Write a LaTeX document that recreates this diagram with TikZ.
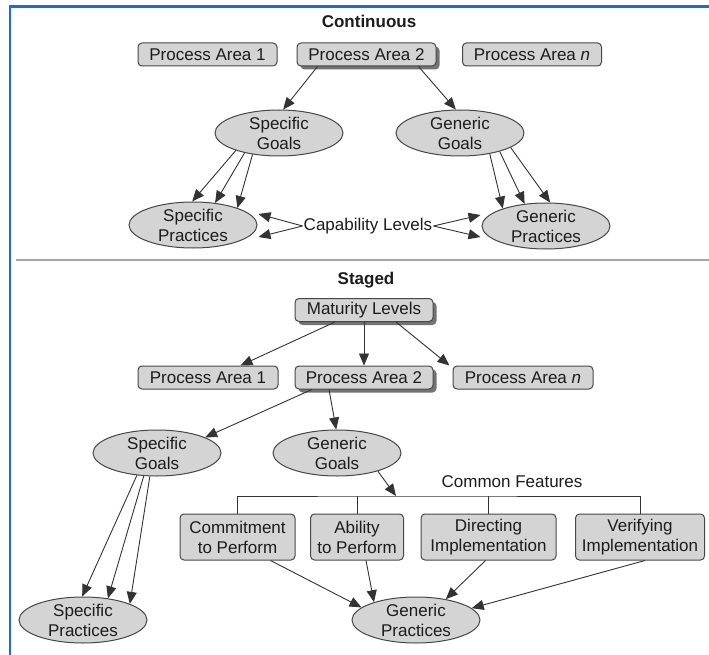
\documentclass[tikz,border=0pt]{standalone}
\usepackage{fontspec}
\setmainfont{Liberation Sans}
\usetikzlibrary{shapes.geometric,arrows.meta,calc,shadows}
\definecolor{framecol}{RGB}{28,108,212}
\definecolor{nodefill}{RGB}{212,212,212}
\definecolor{inkcol}{RGB}{28,28,28}
\begin{document}
\begin{tikzpicture}[x=1pt,y=-1pt,
  font=\fontsize{17}{20}\selectfont,
  box/.style={draw=black!72, line width=1pt, fill=nodefill, rounded corners=4pt,
    inner sep=0pt, minimum height=23pt, text=inkcol, align=center},
  shadowed/.style={drop shadow={shadow xshift=3.5pt, shadow yshift=-3.5pt,
    fill=black!55, opacity=1}},
  oval/.style={ellipse, draw=black!72, line width=1pt, fill=nodefill,
    minimum width=128pt, minimum height=46pt, inner sep=0pt, align=center, text=inkcol},
  link/.style={draw=black!80, line width=0.9pt, -{Triangle[length=12pt,width=10pt]}},
  plain/.style={draw=black!80, line width=0.9pt},
  title/.style={font=\fontsize{17}{20}\selectfont\bfseries, text=inkcol},
  label/.style={text=inkcol, inner sep=1pt}
]
\useasboundingbox (0,0) rectangle (709,655);

% outer frame and section divider
\draw[framecol, line width=2.5pt] (10,655) -- (10,6.5) -- (709,6.5);
\draw[black!35, line width=2pt] (16,260) -- (709,260);

% ---------------- Continuous representation ----------------
\node[title] (tcont) at (369,21) {Continuous};
\node[box, minimum width=139pt] (pa1) at (207.5,54.5) {Process Area 1};
\node[box, shadowed, minimum width=139pt] (pa2) at (366.5,54.5) {Process Area 2};
\node[box, minimum width=139pt] (pan) at (532,54.5) {Process Area \textit{n}};

\node[oval] (sg1) at (279,133) {Specific\\Goals};
\node[oval] (gg1) at (460,133) {Generic\\Goals};
\node[oval] (sp1) at (193,225) {Specific\\Practices};
\node[oval] (gp1) at (546,226) {Generic\\Practices};
\node[label] (cap) at (368,226) {Capability Levels};

\draw[link] ($(pa2.south)+(-49,0)$) -- (sg1.80);
\draw[link] ($(pa2.south)+(52,0)$) -- (gg1.100);

\draw[link] (sg1.202) -- (sp1.92);
\draw[link] (sg1.210) -- (sp1.45);
\draw[link] (sg1.219) -- (sp1.21);

\draw[link] (gg1.325) -- (gp1.158);
\draw[link] (gg1.335) -- (gp1.134);
\draw[link] (gg1.344) -- (gp1.80);

\draw[link] (cap.west) -- ($(sp1.east)+(1,-11)$);
\draw[link] (cap.west) -- ($(sp1.east)+(1,12)$);
\draw[link] (cap.east) -- ($(gp1.west)+(-1,-11)$);
\draw[link] (cap.east) -- ($(gp1.west)+(-1,11)$);

% ---------------- Staged representation ----------------
\node[title] (tstaged) at (366,280) {Staged};
\node[box, shadowed, minimum width=138pt] (ml) at (364,310) {Maturity Levels};
\node[box, minimum width=140pt] (pa1s) at (208,377.5) {Process Area 1};
\node[box, shadowed, minimum width=138pt] (pa2s) at (364,377.5) {Process Area 2};
\node[box, minimum width=140pt] (pans) at (523,377.5) {Process Area \textit{n}};

\draw[link] ($(ml.south)+(-29,0)$) -- ($(pa1s.north east)+(-38,0)$);
\draw[link] (ml.south) -- (pa2s.north);
\draw[link] ($(ml.south)+(32,0)$) -- ($(pans.north west)+(-3,0)$);

\node[oval] (sg2) at (157,453) {Specific\\Goals};
\node[oval] (gg2) at (337,453) {Generic\\Goals};

\draw[link] ($(pa2s.south)+(-52,0)$) -- (sg2.18);
\draw[link] ($(pa2s.south)+(-35,0)$) -- (gg2.92);

\node[box, minimum width=115pt, minimum height=46pt] (f1) at (237.5,537) {Commitment\\to Perform};
\node[box, minimum width=93pt, minimum height=46pt] (f2) at (357,537) {Ability\\to Perform};
\node[box, minimum width=135pt, minimum height=46pt] (f3) at (488.5,537) {Directing\\Implementation};
\node[box, minimum width=129pt, minimum height=46pt] (f4) at (640,537) {Verifying\\Implementation};

\node[label] (cf) at (512,482) {Common Features};
\coordinate (cfbar) at (396,496);
\draw[plain] (f1.north) |- (cfbar) -| (f4.north);
\draw[plain] (f2.north) -- (f2.north |- cfbar);
\draw[plain] (f3.north) -- (f3.north |- cfbar);
\draw[link] (gg2.336) -- (cfbar);

\node[oval] (sp2) at (83,620) {Specific\\Practices};
\node[oval] (gp2) at (416,620) {Generic\\Practices};

\draw[link] (sg2.228) -- (sp2.92);
\draw[link] (sg2.240) -- (sp2.41);
\draw[link] (sg2.253) -- (sp2.19);

\draw[link] ($(f1.south)+(33,0)$) -- (gp2.167);
\draw[link] ($(f2.south)+(9,0)$) -- (gp2.157);
\draw[link] ($(f3.south)+(-3,0)$) -- (gp2.35);
\draw[link] ($(f4.south)+(5,0)$) -- (gp2.12);
\end{tikzpicture}
\end{document}
